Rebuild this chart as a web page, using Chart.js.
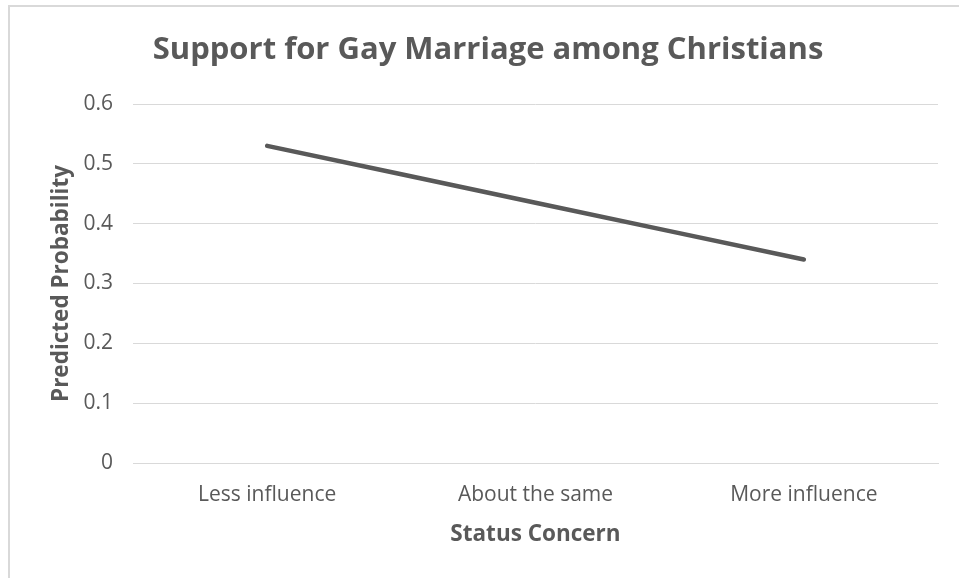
<!DOCTYPE html>
<html>
<head>
<meta charset="utf-8">
<script src="https://cdn.jsdelivr.net/npm/chart.js@4/dist/chart.umd.min.js"></script>
<style>
  html, body { margin: 0; padding: 0; background: #ffffff; }
  #wrap { position: relative; width: 959px; height: 578px; }
  canvas { display: block; }
</style>
</head>
<body>
<div id="wrap"><canvas id="chart" width="959" height="578"></canvas></div>
<script>
// Predicted probability of supporting gay marriage, by perceived status concern
const categories = ['Less influence', 'About the same', 'More influence'];
const probability = [0.53, 0.435, 0.34];
const yTicks = [0, 0.1, 0.2, 0.3, 0.4, 0.5, 0.6];

const chartTitle = 'Support for Gay Marriage among Christians';
const xTitle = 'Status Concern';
const yTitle = 'Predicted Probability';

const FONT = '"Open Sans", Lato, sans-serif';
const TEXT = '#595959';
const GRID = '#d9d9d9';

// light frame along the top and left edges of the chart object
const framePlugin = {
  id: 'frame',
  beforeDraw(chart) {
    const ctx = chart.ctx;
    ctx.save();
    ctx.strokeStyle = '#d9d9d9';
    ctx.lineWidth = 2;
    ctx.beginPath();
    ctx.moveTo(9, chart.height);
    ctx.lineTo(9, 6);
    ctx.lineTo(chart.width, 6);
    ctx.stroke();
    ctx.restore();
  }
};

new Chart(document.getElementById('chart'), {
  type: 'line',
  data: {
    labels: categories,
    datasets: [{
      data: probability,
      yAxisID: 'y',
      borderColor: '#595959',
      borderWidth: 4.5,
      borderCapStyle: 'round',
      borderJoinStyle: 'round',
      tension: 0.3,
      pointRadius: 0,
      pointHoverRadius: 0,
      fill: false
    }]
  },
  options: {
    responsive: false,
    animation: false,
    events: [],
    layout: { padding: { left: 17, right: 0, top: 0, bottom: 0 } },
    plugins: {
      legend: { display: false },
      tooltip: { enabled: false },
      title: {
        display: true,
        text: chartTitle,
        color: TEXT,
        font: { family: FONT, size: 31, weight: 'bold', lineHeight: 1.2 },
        padding: { top: 31.4, bottom: 35.4 }
      }
    },
    scales: {
      x: {
        offset: true,
        grid: { display: false, drawTicks: false },
        border: { display: true, color: GRID, width: 1 },
        ticks: {
          color: TEXT,
          padding: 19,
          font: { family: FONT, size: 21 }
        },
        title: {
          display: true,
          text: xTitle,
          color: TEXT,
          font: { family: FONT, size: 22.5, weight: 'bold', lineHeight: 1.2 },
          padding: { top: 0, bottom: 29.5 }
        },
        afterFit(scale) { scale.height = 115; }
      },
      y: {
        min: 0,
        max: 0.6,
        afterBuildTicks(scale) { scale.ticks = yTicks.map(v => ({ value: v })); },
        grid: { color: GRID, lineWidth: 1, drawTicks: false },
        border: { display: false },
        ticks: {
          color: TEXT,
          padding: 20,
          font: { family: FONT, size: 21 },
          callback: v => String(v)
        },
        title: {
          display: true,
          text: yTitle,
          color: TEXT,
          font: { family: FONT, size: 22.5, weight: 'bold', lineHeight: 1.2 },
          padding: { top: 31.5, bottom: 0 }
        },
        afterFit(scale) { scale.width = 116; }
      },
      // empty right-hand margin between the plot and the frame edge
      margin: {
        position: 'right',
        min: 0,
        max: 1,
        grid: { display: false, drawTicks: false },
        border: { display: false },
        ticks: { display: false },
        afterFit(scale) { scale.width = 21; }
      }
    }
  },
  plugins: [framePlugin]
});
</script>
</body>
</html>
